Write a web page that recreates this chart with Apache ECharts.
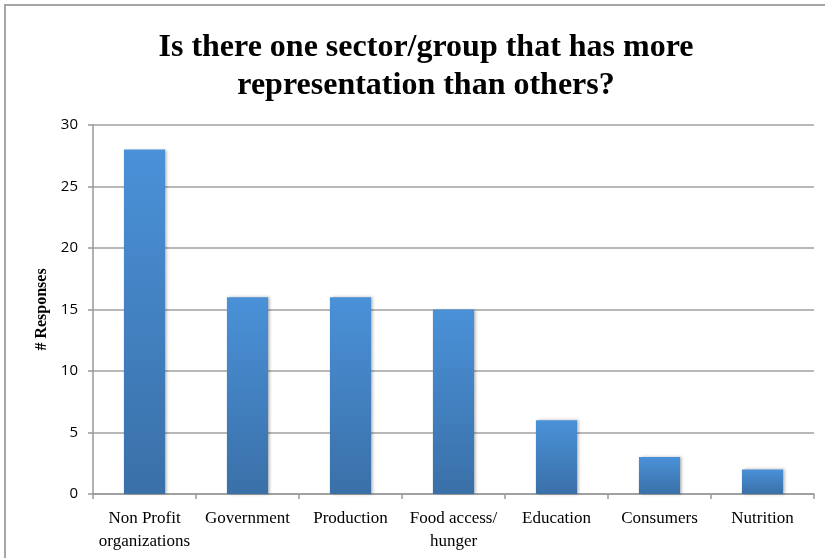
<!DOCTYPE html>
<html>
<head>
<meta charset="utf-8">
<script src="https://cdn.jsdelivr.net/npm/echarts@6/dist/echarts.min.js"></script>
<style>
  html, body { margin: 0; padding: 0; background: #fff; }
  #chart { width: 825px; height: 558px; }
</style>
</head>
<body>
<div id="chart"></div>
<script>
// Sectors / groups and number of responses for each
const categories = ['Non Profit\norganizations', 'Government', 'Production', 'Food access/\nhunger', 'Education', 'Consumers', 'Nutrition'];
const responses = [28, 16, 16, 15, 6, 3, 2];
const yTicks = { min: 0, max: 30, interval: 5 };
const titleLines = ['Is there one sector/group that has more', 'representation than others?'];
const yAxisName = '# Responses';

const chart = echarts.init(document.getElementById('chart'));
chart.setOption({
  animation: false,
  backgroundColor: '#ffffff',
  title: {
    text: titleLines.join('\n'),
    left: 421,
    textAlign: 'center',
    top: 24,
    textStyle: {
      fontFamily: 'Liberation Serif',
      fontWeight: 'bold',
      fontSize: 32,
      lineHeight: 38,
      color: '#000'
    }
  },
  graphic: [{
    type: 'rect',
    shape: { x: 5, y: 5, width: 840, height: 580 },
    style: { fill: 'none', stroke: '#a6a6a6', lineWidth: 2 },
    silent: true
  }],
  grid: { left: 93, right: 11, top: 125, bottom: 64 },
  xAxis: {
    type: 'category',
    data: categories,
    boundaryGap: true,
    axisLine: { lineStyle: { color: '#999', width: 1.5 } },
    axisTick: { show: true, length: 5, alignWithLabel: false, lineStyle: { color: '#999', width: 1.5 } },
    axisLabel: {
      interval: 0,
      margin: 13,
      fontFamily: 'Liberation Serif',
      fontSize: 17,
      lineHeight: 23,
      color: '#000'
    }
  },
  yAxis: {
    type: 'value',
    min: yTicks.min,
    max: yTicks.max,
    interval: yTicks.interval,
    name: yAxisName,
    nameLocation: 'middle',
    nameGap: 40,
    nameRotate: 90,
    nameTextStyle: {
      fontFamily: 'Liberation Serif',
      fontWeight: 'bold',
      fontSize: 16,
      color: '#000'
    },
    axisLine: { show: true, lineStyle: { color: '#999', width: 1.5 } },
    axisTick: { show: true, length: 5, lineStyle: { color: '#999', width: 1.5 } },
    splitLine: { lineStyle: { color: '#a0a0a0', width: 1.5 } },
    axisLabel: {
      margin: 15,
      fontFamily: 'Open Sans',
      fontSize: 15,
      color: '#000'
    }
  },
  series: [{
    type: 'bar',
    data: responses,
    barWidth: '40%',
    itemStyle: {
      color: new echarts.graphic.LinearGradient(0, 0, 0, 1, [
        { offset: 0, color: '#4a91d8' },
        { offset: 1, color: '#3a70a8' }
      ], false),
      shadowColor: 'rgba(0,0,0,0.3)',
      shadowBlur: 3,
      shadowOffsetX: 2,
      shadowOffsetY: 0
    }
  }]
});
</script>
</body>
</html>
